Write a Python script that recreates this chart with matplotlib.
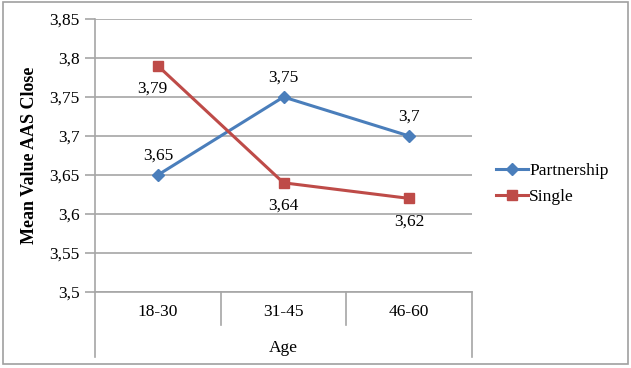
import matplotlib.pyplot as plt
from matplotlib.patches import Rectangle
from matplotlib.transforms import blended_transform_factory

plt.rcParams['font.family'] = ['Liberation Serif', 'DejaVu Serif']

# Data
ages = ['18-30', '31-45', '46-60']
partnership = [3.65, 3.75, 3.70]
single = [3.79, 3.64, 3.62]
yticks = [3.5, 3.55, 3.6, 3.65, 3.7, 3.75, 3.8, 3.85]

blue = '#4a7ebb'
red = '#be4b48'
grey = '#a6a6a6'
fs = 12.5


def comma(v):
    return ('%g' % v).replace('.', ',')


fig = plt.figure(figsize=(6.31, 3.68), dpi=100)
fig.patches.append(Rectangle((3 / 631, 4 / 368), 625 / 631, 362 / 368,
                             transform=fig.transFigure, fill=False,
                             edgecolor='#a0a0a0', linewidth=1.2))

ax = fig.add_axes([95 / 631, (368 - 292) / 368, 377 / 631, 273 / 368])
x = list(range(len(ages)))

ax.plot(x, partnership, color=blue, linewidth=2.2, marker='D', markersize=6,
        label='Partnership', zorder=3)
ax.plot(x, single, color=red, linewidth=2.2, marker='s', markersize=7,
        label='Single', zorder=3)

# data labels
for i, v in enumerate(partnership):
    ax.annotate(comma(v), (i, v), xytext=(0, 8), textcoords='offset points',
                ha='center', va='bottom', fontsize=fs)
label_offsets = [(-4, -11), (0, -11), (0, -11)]
for i, v in enumerate(single):
    ax.annotate(comma(v), (i, v), xytext=label_offsets[i],
                textcoords='offset points', ha='center', va='top', fontsize=fs)

ax.set_xlim(-0.5, 2.5)
ax.set_ylim(3.5, 3.85)
ax.set_yticks(yticks)
ax.set_yticklabels([comma(v) for v in yticks], fontsize=fs)
ax.yaxis.grid(True, color=grey, linewidth=1.2)
ax.set_axisbelow(True)
ax.tick_params(axis='y', length=7, width=1.2, color=grey, pad=4)

ax.set_xticks(x)
ax.set_xticklabels(ages, fontsize=fs)
ax.tick_params(axis='x', length=0, pad=9)

for s in ['top', 'right']:
    ax.spines[s].set_visible(False)
for s in ['left', 'bottom']:
    ax.spines[s].set_color(grey)
    ax.spines[s].set_linewidth(1.2)

# category separators below the axis
trans = blended_transform_factory(ax.transData, ax.transAxes)
for b in [0.5, 1.5]:
    ax.plot([b, b], [0, -33 / 273], transform=trans, color=grey,
            linewidth=1.2, clip_on=False)
for b in [-0.5, 2.5]:
    ax.plot([b, b], [0, -65 / 273], transform=trans, color=grey,
            linewidth=1.2, clip_on=False)

ax.set_xlabel('Age', fontsize=fs, labelpad=14)
ax.set_ylabel('Mean Value AAS Close', fontsize=13, fontweight='bold',
              labelpad=8)

ax.legend(loc='center left', bbox_to_anchor=(1.064, 0.396), frameon=False,
          fontsize=fs, handlelength=1.85, handletextpad=0.05,
          labelspacing=0.55, borderpad=0, borderaxespad=0)

fig.savefig('out.png', dpi=100)
